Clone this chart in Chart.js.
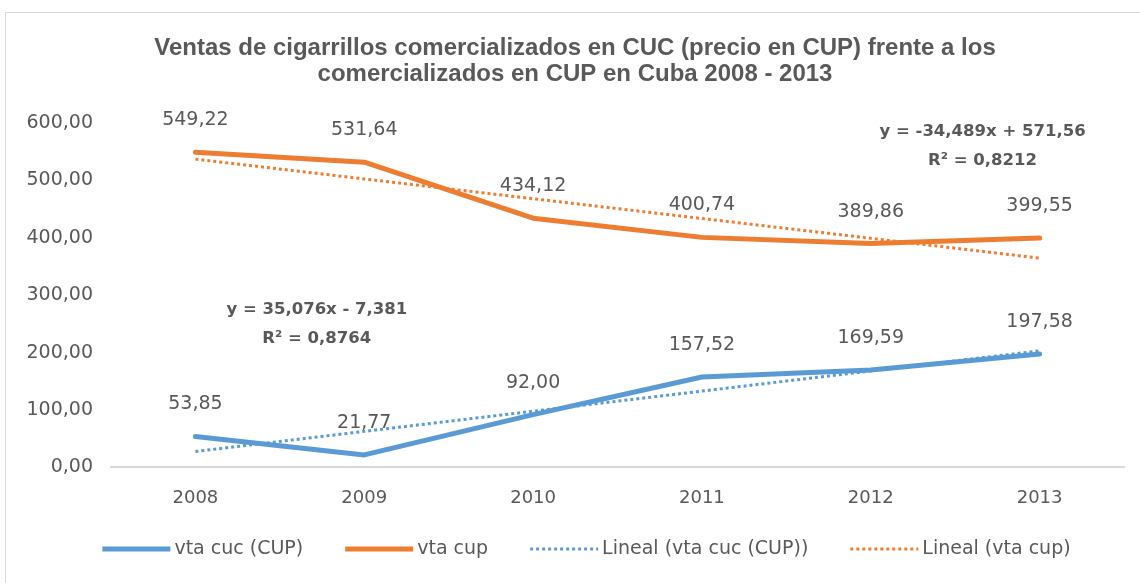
<!DOCTYPE html>
<html>
<head>
<meta charset="utf-8">
<script src="https://cdn.jsdelivr.net/npm/chart.js@4.4.1/dist/chart.umd.min.js"></script>
<style>
html,body{margin:0;padding:0;background:#fff;}
#wrap{position:relative;width:1140px;height:583px;}
</style>
</head>
<body>
<div id="wrap"><canvas id="c" width="1140" height="583"></canvas></div>
<script>
const categories = ['2008', '2009', '2010', '2011', '2012', '2013'];
const vtaCucCup = [53.85, 21.77, 92.00, 157.52, 169.59, 197.58];
const vtaCup = [549.22, 531.64, 434.12, 400.74, 389.86, 399.55];
const linealCuc = [27.70, 62.77, 97.85, 132.92, 168.00, 203.08];
const linealCup = [537.07, 502.58, 468.09, 433.60, 399.12, 364.63];
const seriesNames = ['vta cuc (CUP)', 'vta cup', 'Lineal (vta cuc (CUP))', 'Lineal (vta cup)'];
const titleLines = ['Ventas de cigarrillos comercializados en CUC (precio en CUP) frente a los', 'comercializados en CUP en Cuba 2008 - 2013'];
const eqCuc = ['y = 35,076x - 7,381', 'R² = 0,8764'];
const eqCup = ['y = -34,489x + 571,56', 'R² = 0,8212'];

const BLUE = '#5B9BD5', ORANGE = '#ED7D31', TXT = '#595959';
const fmt = v => v.toFixed(2).replace('.', ',');

const borderPlugin = {
  id: 'frame',
  beforeDraw(chart) {
    const ctx = chart.ctx;
    ctx.save();
    ctx.fillStyle = '#fff';
    ctx.fillRect(0, 0, chart.width, chart.height);
    ctx.strokeStyle = '#d9d9d9';
    ctx.lineWidth = 1;
    ctx.strokeRect(5.5, 12.5, 1200, 700);
    ctx.restore();
  }
};

const labelPlugin = {
  id: 'valueLabels',
  afterDatasetsDraw(chart) {
    const ctx = chart.ctx;
    ctx.save();
    ctx.font = '19px "DejaVu Sans"';
    ctx.fillStyle = TXT;
    ctx.textAlign = 'center';
    ctx.textBaseline = 'middle';
    [0, 1].forEach(di => {
      const meta = chart.getDatasetMeta(di);
      const data = chart.data.datasets[di].data;
      meta.data.forEach((pt, i) => {
        ctx.fillText(fmt(data[i]), pt.x, pt.y - 32);
      });
    });
    // trendline equations
    const xs = chart.scales.x, ys = chart.scales.y;
    ctx.font = 'bold 16.5px "DejaVu Sans"';
    const drawEq = (lines, cx, cy) => {
      lines.forEach((t, k) => ctx.fillText(t, cx, cy + k * 29));
    };
    drawEq(eqCuc, (xs.getPixelForValue(0) + xs.getPixelForValue(1)) / 2 + 37, ys.getPixelForValue(275));
    drawEq(eqCup, xs.getPixelForValue(5) - 57, ys.getPixelForValue(584));
    ctx.restore();
  }
};

const legendPlugin = {
  id: 'customLegend',
  afterDraw(chart) {
    const ctx = chart.ctx;
    ctx.save();
    ctx.font = '19px "DejaVu Sans"';
    ctx.textBaseline = 'middle';
    ctx.textAlign = 'left';
    const sampleW = 68, gapText = 4, gapItem = 42, y = 549;
    const ds = chart.data.datasets;
    const widths = ds.map(d => sampleW + gapText + ctx.measureText(d.label).width);
    const total = widths.reduce((a, b) => a + b, 0) + gapItem * (ds.length - 1);
    let x = 586.5 - total / 2;
    ds.forEach((d, i) => {
      ctx.strokeStyle = d.borderColor;
      ctx.lineWidth = d.borderWidth;
      ctx.setLineDash(d.borderDash || []);
      ctx.lineCap = 'butt';
      ctx.beginPath();
      ctx.moveTo(x, y);
      ctx.lineTo(x + sampleW, y);
      ctx.stroke();
      ctx.setLineDash([]);
      ctx.fillStyle = TXT;
      ctx.fillText(d.label, x + sampleW + gapText, y);
      x += widths[i] + gapItem;
    });
    ctx.restore();
  }
};

const common = { fill: false, pointRadius: 0, pointHoverRadius: 0, tension: 0 };

new Chart(document.getElementById('c'), {
  type: 'line',
  data: {
    labels: categories,
    datasets: [
      Object.assign({ label: seriesNames[0], data: vtaCucCup, borderColor: BLUE, backgroundColor: BLUE, borderWidth: 5, order: 1, borderJoinStyle: 'round', borderCapStyle: 'round' }, common),
      Object.assign({ label: seriesNames[1], data: vtaCup, borderColor: ORANGE, backgroundColor: ORANGE, borderWidth: 5, order: 1, borderJoinStyle: 'round', borderCapStyle: 'round' }, common),
      Object.assign({ label: seriesNames[2], data: linealCuc, borderColor: BLUE, backgroundColor: BLUE, borderWidth: 3, borderDash: [3, 3], order: 0 }, common),
      Object.assign({ label: seriesNames[3], data: linealCup, borderColor: ORANGE, backgroundColor: ORANGE, borderWidth: 3, borderDash: [3, 3], order: 0 }, common)
    ]
  },
  options: {
    responsive: false,
    animation: false,
    devicePixelRatio: 1,
    layout: { padding: { left: 26, right: 16, top: 0, bottom: 54 } },
    plugins: {
      tooltip: { enabled: false },
      legend: { display: false },
      title: {
        display: true,
        text: titleLines,
        color: TXT,
        font: { family: '"Liberation Sans", Arial, sans-serif', size: 24, weight: 'bold', lineHeight: '26px' },
        padding: { top: 35, bottom: 36 }
      }
    },
    scales: {
      x: {
        offset: true,
        grid: { display: false, drawTicks: false },
        border: { display: true, color: '#d9d9d9', width: 2 },
        ticks: { color: TXT, font: { family: '"DejaVu Sans"', size: 18 }, padding: 20 }
      },
      y: {
        min: 0, max: 600,
        afterFit(scale) { scale.width = 85; },
        grid: { display: false, drawTicks: false },
        border: { display: false },
        ticks: { stepSize: 100, color: TXT, font: { family: '"DejaVu Sans"', size: 19 }, padding: 18, callback: v => fmt(v) }
      }
    }
  },
  plugins: [borderPlugin, labelPlugin, legendPlugin]
});
</script>
</body>
</html>
